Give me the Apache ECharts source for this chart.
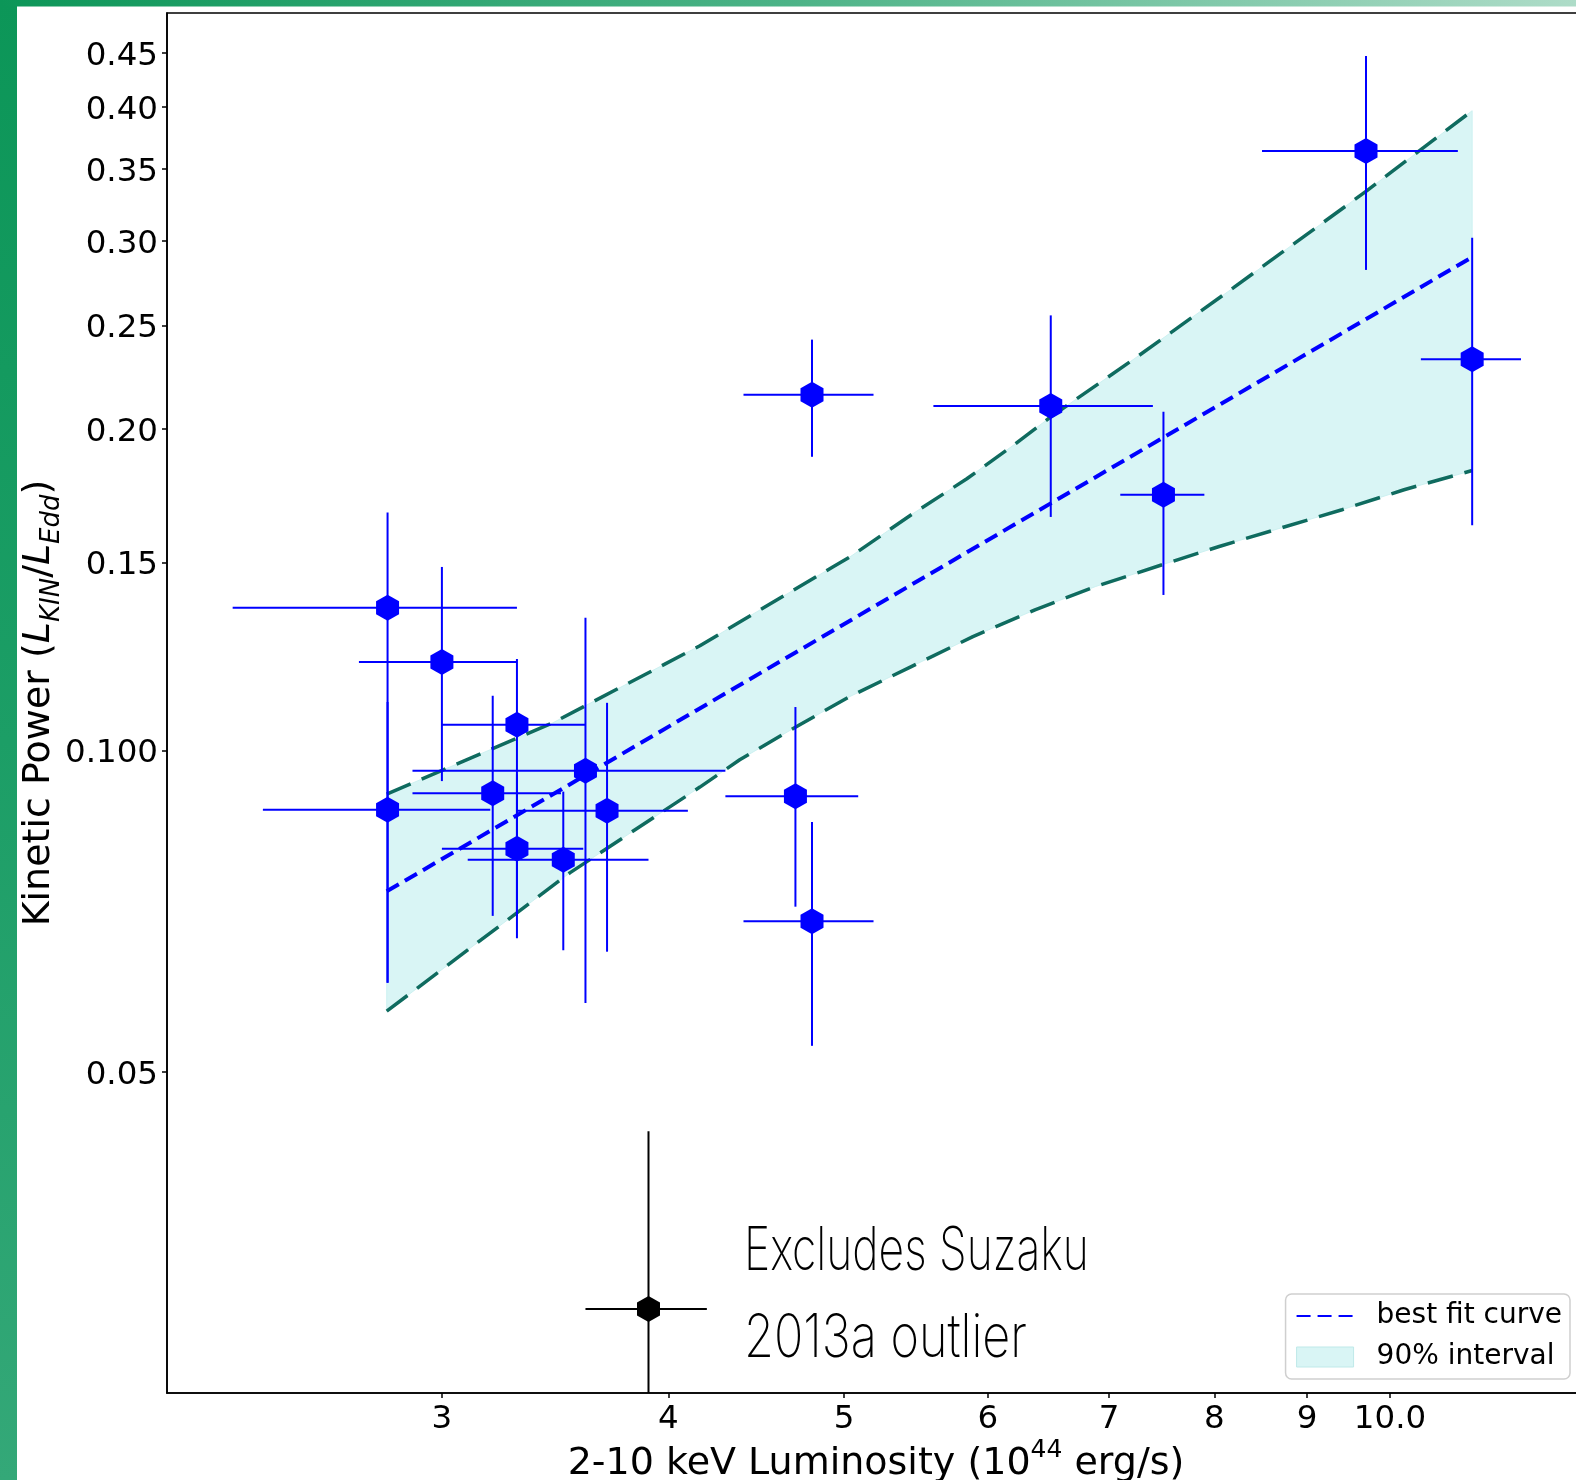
<!DOCTYPE html>
<html><head><meta charset="utf-8">
<script src="https://cdn.jsdelivr.net/npm/echarts@6/dist/echarts.min.js"></script>
<style>html,body{margin:0;padding:0;background:#fff}#c{width:1576px;height:1480px}</style>
</head><body><div id="c"></div>
<script>
// ---- tick labels ----
const xTicks = [3, 4, 5, 6, 7, 8, 9, 10];
const xTickLabels = ['3', '4', '5', '6', '7', '8', '9', '10.0'];
const yTicks = [0.05, 0.1, 0.15, 0.2, 0.25, 0.3, 0.35, 0.4, 0.45];
const yTickLabels = ['0.05', '0.100', '0.15', '0.20', '0.25', '0.30', '0.35', '0.40', '0.45'];

// ---- observations (2-10 keV luminosity, kinetic power) ----
const lumX   = [2.80, 2.80, 3.00, 3.30, 3.20, 3.60, 3.70, 3.30, 3.50, 4.80, 6.50, 7.50, 9.70, 11.10, 4.70, 4.80];
const powerY = [0.136, 0.088, 0.121, 0.1057, 0.0912, 0.0957, 0.0878, 0.0809, 0.0790, 0.2152, 0.2101, 0.1735, 0.3640, 0.2323, 0.0906, 0.0692];
const lumLo  = [2.30, 2.39, 2.70, 3.00, 2.89, 2.89, 3.30, 3.00, 3.10, 4.40, 5.60, 7.10, 8.50, 10.40, 4.30, 4.40];
const lumHi  = [3.30, 3.19, 3.30, 3.60, 3.49, 4.30, 4.10, 3.59, 3.90, 5.19, 7.40, 7.90, 10.90, 11.81, 5.09, 5.19];
const powLo  = [0.0606, 0.0606, 0.0936, 0.0667, 0.0700, 0.0580, 0.0648, 0.0700, 0.0650, 0.1883, 0.1654, 0.1398, 0.2817, 0.1625, 0.0714, 0.0529];
const powHi  = [0.167, 0.111, 0.1485, 0.1218, 0.1125, 0.1331, 0.1108, 0.0950, 0.0915, 0.2424, 0.2554, 0.2075, 0.4467, 0.3020, 0.1098, 0.0857];

// ---- excluded outlier (Suzaku 2013a) ----
const outX = [3.90], outY = [0.0300], outXLo = [3.60], outXHi = [4.20], outYLo = [0.0200], outYHi = [0.0440];

// ---- best fit and 90% interval ----
const fitX = [2.797, 11.10];
const fitY = [0.0738, 0.2896];
const upperX = [2.797, 3.453, 3.592, 4.163, 4.379, 4.928, 5.036, 5.445, 5.843, 6.203, 6.502, 7.215, 8.195, 9.712, 11.10];
const upperY = [0.0910, 0.1061, 0.1099, 0.1253, 0.1319, 0.1485, 0.1517, 0.1662, 0.1796, 0.1932, 0.2053, 0.2321, 0.2710, 0.3342, 0.3970];
const lowerX = [2.797, 3.529, 4.163, 4.379, 4.726, 5.036, 5.445, 5.888, 6.371, 6.883, 7.514, 8.050, 8.705, 9.409, 10.18, 11.10];
const lowerY = [0.0570, 0.0768, 0.0924, 0.0980, 0.1057, 0.1123, 0.1198, 0.1278, 0.1354, 0.1424, 0.1495, 0.1552, 0.1615, 0.1680, 0.1754, 0.1828];

const FONT = 'DejaVu Sans';
const HEX = 'path://M0,-1 L0.866,-0.5 L0.866,0.5 L0,1 L-0.866,0.5 L-0.866,-0.5 Z';

function labelFor(ticks, labels, v) {
  let best = 0, d = Infinity;
  ticks.forEach((t, i) => { const dd = Math.abs(Math.log(t) - Math.log(v)); if (dd < d) { d = dd; best = i; } });
  return labels[best];
}

const zip = (...arrs) => arrs[0].map((_, i) => arrs.map(a => a[i]));

function errRender(color) {
  return function (params, api) {
    const x = api.value(0), y = api.value(1);
    const pl = api.coord([api.value(2), y]), ph = api.coord([api.value(3), y]);
    const pb = api.coord([x, api.value(4)]), pt = api.coord([x, api.value(5)]);
    const st = { stroke: color, lineWidth: 2 };
    return { type: 'group', children: [
      { type: 'line', shape: { x1: pl[0], y1: pl[1], x2: ph[0], y2: ph[1] }, style: st },
      { type: 'line', shape: { x1: pt[0], y1: pt[1], x2: pb[0], y2: pb[1] }, style: st }
    ]};
  };
}

const chart = echarts.init(document.getElementById('c'), null, { renderer: 'canvas' });
chart.setOption({
  animation: false,
  backgroundColor: '#fff',
  grid: { left: 167, top: 13, width: 1418, height: 1380, show: true, borderColor: '#000', borderWidth: 1.6, backgroundColor: '#fff', containLabel: false, outerBoundsMode: 'none' },
  xAxis: {
    type: 'log', logBase: 10, min: 2.116, max: 12.81,
    axisLine: { show: true, lineStyle: { color: '#000', width: 1.6 } },
    axisTick: { show: true, customValues: xTicks, length: 5, lineStyle: { color: '#000', width: 1.5 } },
    axisLabel: { customValues: xTicks, fontSize: 32.5, fontFamily: FONT, color: '#000', margin: 10,
      formatter: v => labelFor(xTicks, xTickLabels, v) },
    splitLine: { show: false }, minorTick: { show: false },
    name: '{b|2-10 keV Luminosity (10}{s|44}{b| erg/s)}',
    nameLocation: 'middle', nameGap: 45, nameMoveOverlap: false,
    nameTextStyle: { color: '#000', fontFamily: FONT, rich: {
      b: { fontSize: 38, fontFamily: FONT, color: '#000', lineHeight: 52 },
      s: { fontSize: 25, fontFamily: FONT, color: '#000', verticalAlign: 'top' } } }
  },
  yAxis: {
    type: 'log', logBase: 10, min: 0.02503, max: 0.4901,
    axisLine: { show: true, lineStyle: { color: '#000', width: 1.6 } },
    axisTick: { show: true, customValues: yTicks, length: 5, lineStyle: { color: '#000', width: 1.5 } },
    axisLabel: { customValues: yTicks, fontSize: 32.5, fontFamily: FONT, color: '#000', margin: 9,
      verticalAlign: 'top', lineHeight: 7,
      formatter: v => labelFor(yTicks, yTickLabels, v) },
    splitLine: { show: false }, minorTick: { show: false },
    name: '{b|Kinetic Power (}{i|L}{si|KIN}{b|/}{i|L}{si|Edd}{b|)}',
    nameLocation: 'middle', nameGap: 102, nameRotate: 90, nameMoveOverlap: false,
    nameTextStyle: { color: '#000', fontFamily: FONT, rich: {
      b: { fontSize: 38, fontFamily: FONT, color: '#000', lineHeight: 52 },
      i: { fontSize: 38, fontFamily: FONT, fontStyle: 'italic', color: '#000', lineHeight: 52 },
      si: { fontSize: 26, fontFamily: FONT, fontStyle: 'italic', color: '#000', verticalAlign: 'bottom' } } }
  },
  legend: {
    data: [
      { name: 'best fit curve', itemStyle: { opacity: 0 } },
      { name: '90% interval', icon: 'rect', itemStyle: { color: '#d9f5f5', borderColor: '#bfe9e9', borderWidth: 1 } }
    ],
    orient: 'vertical', right: 6, bottom: 101, align: 'left',
    itemWidth: 57, itemHeight: 20, itemGap: 11, padding: [7, 8, 7, 10],
    backgroundColor: 'rgba(255,255,255,0.85)', borderColor: '#cfcfcf', borderWidth: 1.5, borderRadius: 6,
    textStyle: { fontSize: 28, fontFamily: FONT, color: '#000', padding: [0, 0, 0, 18], lineHeight: 30 },
    selectedMode: false
  },
  series: [
    {
      name: '90% interval', type: 'custom', coordinateSystem: 'cartesian2d', clip: true,
      itemStyle: { color: '#d9f5f5' },
      data: [[upperX[0], upperY[0]]],
      renderItem: function (params, api) {
        const pts = [];
        upperX.forEach((x, i) => pts.push(api.coord([x, upperY[i]])));
        for (let i = lowerX.length - 1; i >= 0; i--) pts.push(api.coord([lowerX[i], lowerY[i]]));
        return { type: 'polygon', shape: { points: pts }, style: { fill: '#d9f5f5', stroke: '#cdf1f1', lineWidth: 1 } };
      },
      z: 1
    },
    {
      name: 'upper', type: 'line', data: zip(upperX, upperY), symbol: 'none', smooth: false,
      lineStyle: { color: '#0f6b5f', width: 3.5, type: [26, 12] }, z: 2
    },
    {
      name: 'lower', type: 'line', data: zip(lowerX, lowerY), symbol: 'none', smooth: false,
      lineStyle: { color: '#0f6b5f', width: 3.5, type: [26, 12] }, z: 2
    },
    {
      name: 'best fit curve', type: 'line', data: zip(fitX, fitY), symbol: 'none',
      itemStyle: { color: '#0000ff' },
      lineStyle: { color: '#0000ff', width: 4, type: [14, 7] }, z: 3
    },
    {
      name: 'errors', type: 'custom', coordinateSystem: 'cartesian2d', clip: true,
      data: zip(lumX, powerY, lumLo, lumHi, powLo, powHi),
      encode: { x: 0, y: 1 }, renderItem: errRender('#0000ff'), z: 4
    },
    {
      name: 'outlier errors', type: 'custom', coordinateSystem: 'cartesian2d', clip: true,
      data: zip(outX, outY, outXLo, outXHi, outYLo, outYHi),
      encode: { x: 0, y: 1 }, renderItem: errRender('#000000'), z: 4
    },
    {
      name: 'points', type: 'scatter', data: zip(lumX, powerY), symbol: HEX, symbolSize: [23, 26],
      itemStyle: { color: '#0000ff', opacity: 1 }, z: 5
    },
    {
      name: 'outlier', type: 'scatter', data: zip(outX, outY), symbol: HEX, symbolSize: [23, 26],
      itemStyle: { color: '#000000', opacity: 1 }, z: 5
    }
  ],
  graphic: [
    { type: 'rect', left: 0, top: 0, z: 100, shape: { width: 17, height: 1480 },
      style: { fill: new echarts.graphic.LinearGradient(0, 0, 0, 1, [
        { offset: 0, color: '#0c9658' }, { offset: 0.5, color: '#1c9e66' }, { offset: 1, color: '#34a878' }]) } },
    { type: 'rect', left: 0, top: 0, z: 100, shape: { width: 1576, height: 6.5 },
      style: { fill: new echarts.graphic.LinearGradient(0, 0, 1, 0, [
        { offset: 0, color: '#0c9658' }, { offset: 0.5, color: '#4cb387' }, { offset: 1, color: '#aedcc8' }]) } },
    { type: 'text', x: 744, y: 1252, scaleX: 0.74, z: 100,
      style: { text: 'Excludes Suzaku', x: 0, y: 0, fill: '#000', align: 'left', verticalAlign: 'middle',
        font: '200 60px Inter, "DejaVu Sans"' } },
    { type: 'text', x: 744, y: 1339, scaleX: 0.81, z: 100,
      style: { text: '2013a outlier', x: 0, y: 0, fill: '#000', align: 'left', verticalAlign: 'middle',
        font: '200 60px Inter, "DejaVu Sans"' } }
  ]
});
</script>
</body></html>
